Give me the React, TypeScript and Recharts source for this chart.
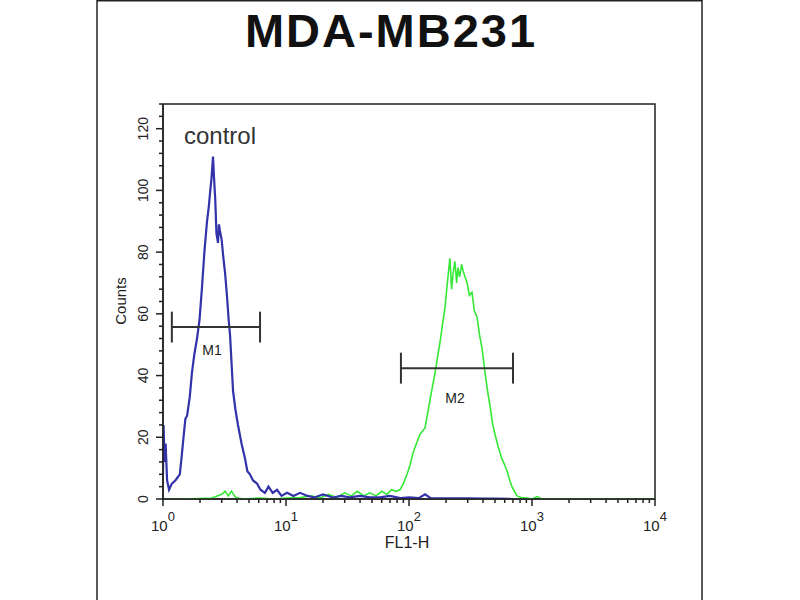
import { LineChart, Line, XAxis, YAxis, ReferenceLine, ReferenceDot, ReferenceArea } from 'recharts'

const FONT = '"Liberation Sans", Arial, sans-serif'

// FL1-H channel value, counts
const controlFl = [1.0, 1.01, 1.03, 1.05, 1.08, 1.12, 1.18, 1.26, 1.37, 1.42, 1.46, 1.52, 1.57, 1.65, 1.72, 1.8, 1.89, 1.98, 2.07, 2.17, 2.28, 2.36, 2.41, 2.48, 2.55, 2.6, 2.66, 2.72, 2.8, 2.85, 2.9, 3.0, 3.08, 3.2, 3.31, 3.42, 3.51, 3.62, 3.71, 3.88, 4.07, 4.35, 4.65, 4.85, 5.09, 5.4, 5.81, 6.2, 6.74, 7.2, 7.8, 8.45, 9.2, 10.2, 11.5, 13, 15, 17, 20, 24, 28, 33, 40, 48, 58, 70, 85, 100, 120, 135, 150, 180, 220, 300, 400, 500, 700]
const controlCounts = [8, 24, 12, 18, 6, 3, 5, 6, 8, 14, 19, 26, 27, 33, 41, 47, 52, 58, 68, 80, 90, 95, 99, 104, 111, 104, 97, 86, 83, 89, 87, 84, 79, 73, 66, 58, 53, 43, 35, 29, 24, 18, 13, 9, 8, 6, 5, 3, 2, 4, 2, 3, 1, 2, 1, 2, 1, 0.5, 1.5, 0.5, 1, 0.5, 1, 0.5, 0.5, 1, 0.3, 0.5, 0.3, 1.5, 0.3, 0.2, 0.2, 0.2, 0.1, 0.1, 0]

const sampleFl = [1, 1.5, 2.5, 3.0, 3.2, 3.4, 3.6, 3.9, 4.5, 6, 8, 10, 13, 16, 19, 22, 26, 30, 34, 38, 43, 48, 54, 60, 66, 72, 78, 84.5, 90, 96.4, 102, 108, 115, 123, 135, 148, 163, 179, 196, 205, 215, 222, 228, 236, 244, 250, 258, 268, 275, 285, 297, 310, 325, 340, 357, 375, 392, 415, 435, 456, 480, 500, 530, 570, 600, 627, 660, 687, 720, 755, 820, 910, 1000, 1100, 1200, 2000, 10000]
const sampleCounts = [0, 0, 0.3, 1.5, 2.5, 1, 2.5, 0.5, 0, 0.3, 0, 0.3, 0.5, 1, 0.3, 1.5, 0.5, 2, 1, 2.5, 1, 2, 1, 2.5, 1.5, 3, 2.5, 3, 5, 8, 11, 15, 18, 21, 23, 32, 41, 51, 62, 70, 78, 68, 73, 77, 70, 75, 72, 76, 74, 72, 70, 66, 67, 61, 59, 53, 49, 41, 35, 30, 24, 21, 17, 13, 11, 9, 6, 4, 2.5, 1, 0.5, 0.3, 0, 0.8, 0, 0, 0]

const controlData = controlFl.map((fl, i) => ({ fl, count: controlCounts[i] }))
const sampleData = sampleFl.map((fl, i) => ({ fl, count: sampleCounts[i] }))

const xMajor = [1, 10, 100, 1000, 10000]
const xTicks = [1, 2, 3, 4, 5, 6, 7, 8, 9, 10, 20, 30, 40, 50, 60, 70, 80, 90, 100, 200, 300, 400, 500, 600, 700, 800, 900, 1000, 2000, 3000, 4000, 5000, 6000, 7000, 8000, 9000, 10000]
const yTicks = [0, 4, 8, 12, 16, 20, 24, 28, 32, 36, 40, 44, 48, 52, 56, 60, 64, 68, 72, 76, 80, 84, 88, 92, 96, 100, 104, 108, 112, 116, 120, 124, 128]

// gate markers
const m1 = { name: 'M1', from: 1.18, to: 6.15, level: 55.7, labelAt: 2.5, labelY: 48.3 }
const m2 = { name: 'M2', from: 86, to: 701, level: 42.4, labelAt: 237, labelY: 32.7 }
const markers = [m1, m2]

function XTick({ x, y, payload }: any) {
  const v = payload.value
  const major = xMajor.includes(v)
  const exp = Math.round(Math.log10(v))
  return (
    <g>
      <line x1={x} x2={x} y1={y} y2={y + (major ? 7 : 4)} stroke="#222" strokeWidth={1.5} />
      {major && (
        <text x={x} y={y + 32} textAnchor="middle" fontFamily={FONT} fontSize={15} fill="#222">
          <tspan>10</tspan>
          <tspan dy={-10} fontSize={13}>{exp}</tspan>
        </text>
      )}
    </g>
  )
}

function YTick({ x, y, payload }: any) {
  const v = payload.value
  const major = v % 20 === 0 && v <= 120
  return (
    <g>
      <line x1={x - (major ? 7 : 4)} x2={x} y1={y} y2={y} stroke="#222" strokeWidth={1.5} />
      {major && (
        <text x={x - 15} y={y} transform={`rotate(-90, ${x - 15}, ${y})`} textAnchor="middle" fontFamily={FONT} fontSize={14} fill="#222">
          {v}
        </text>
      )}
    </g>
  )
}

export default function App() {
  return (
    <div style={{ position: 'absolute', left: 0, top: 0, width: 800, height: 600, background: '#fff', overflow: 'hidden' }}>
      <LineChart width={800} height={600} margin={{ top: 104, right: 145, left: 103, bottom: 41 }}>
        <XAxis
          dataKey="fl"
          type="number"
          scale="log"
          domain={[1, 10000]}
          ticks={xTicks}
          interval={0}
          allowDataOverflow
          height={60}
          tickSize={0}
          tickMargin={0}
          tickLine={false}
          tick={<XTick />}
          axisLine={{ stroke: '#222', strokeWidth: 1.5 }}
        />
        <YAxis
          type="number"
          domain={[0, 128]}
          ticks={yTicks}
          interval={0}
          allowDataOverflow
          width={60}
          tickSize={0}
          tickMargin={0}
          tickLine={false}
          tick={<YTick />}
          axisLine={{ stroke: '#222', strokeWidth: 1.5 }}
        />
        <ReferenceArea x1={1} x2={10000} y1={0} y2={128} fill="none" stroke="#222" strokeWidth={1.5} />
        <Line data={sampleData} dataKey="count" type="linear" stroke="#35e835" strokeWidth={1.6} dot={false} isAnimationActive={false} />
        <Line data={controlData} dataKey="count" type="linear" stroke="#3232aa" strokeWidth={2.2} dot={false} isAnimationActive={false} />
        {markers.map((m) => [
          <ReferenceLine key={m.name + 'h'} segment={[{ x: m.from, y: m.level }, { x: m.to, y: m.level }]} stroke="#333" strokeWidth={2} />,
          <ReferenceLine key={m.name + 'l'} segment={[{ x: m.from, y: m.level - 5 }, { x: m.from, y: m.level + 5 }]} stroke="#333" strokeWidth={2} />,
          <ReferenceLine key={m.name + 'r'} segment={[{ x: m.to, y: m.level - 5 }, { x: m.to, y: m.level + 5 }]} stroke="#333" strokeWidth={2} />,
          <ReferenceDot
            key={m.name + 't'}
            x={m.labelAt}
            y={m.labelY}
            r={0}
            fill="none"
            stroke="none"
            label={{ value: m.name, position: 'center', fontFamily: FONT, fontSize: 14, fill: '#222' }}
          />,
        ])}
      </LineChart>
      <svg width={800} height={600} style={{ position: 'absolute', left: 0, top: 0, pointerEvents: 'none' }}>
        <line x1={97} x2={97} y1={0} y2={600} stroke="#222" strokeWidth={1.5} />
        <line x1={702} x2={702} y1={0} y2={600} stroke="#222" strokeWidth={1.5} />
        <line x1={97} x2={702} y1={0.75} y2={0.75} stroke="#222" strokeWidth={1.5} />
        <text x={391} y={47} textAnchor="middle" fontFamily={FONT} fontWeight="bold" fontSize={47} letterSpacing={2} fill="#111">
          MDA-MB231
        </text>
        <text x={184} y={144} fontFamily={FONT} fontSize={24} fill="#333">
          control
        </text>
        <text x={407} y={548} textAnchor="middle" fontFamily={FONT} fontSize={16} fill="#222">
          FL1-H
        </text>
        <text x={126} y={301} transform="rotate(-90, 126, 301)" textAnchor="middle" fontFamily={FONT} fontSize={15} fill="#222">
          Counts
        </text>
      </svg>
    </div>
  )
}
